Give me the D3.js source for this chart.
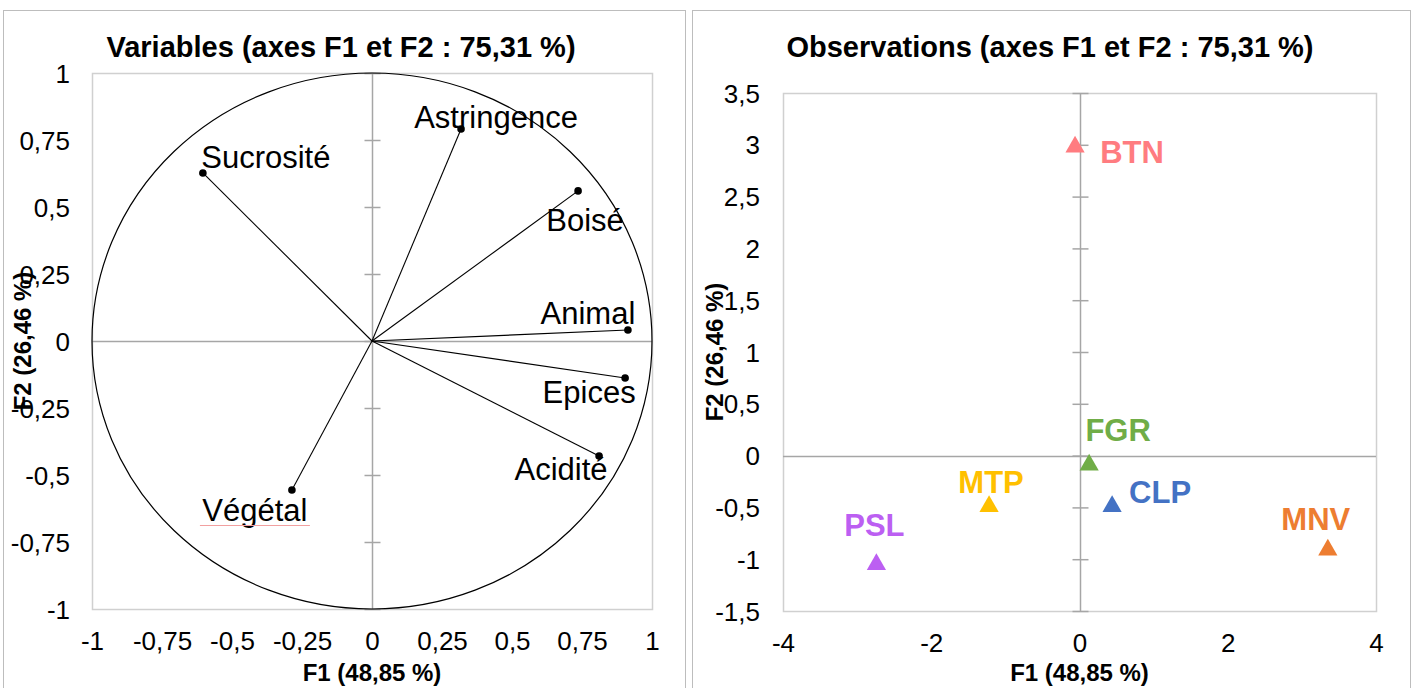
<!DOCTYPE html>
<html>
<head>
<meta charset="utf-8">
<script src="https://cdn.jsdelivr.net/npm/d3@7"></script>
<style>
  html, body { margin: 0; padding: 0; background: #fff; }
  svg { display: block; }
  text { font-family: "Liberation Sans", Arial, Helvetica, sans-serif; fill: #000; }
</style>
</head>
<body>
<svg id="chart" width="1413" height="688"></svg>
<script>
// ---- Data: correlation circle (variables) ----
const varNames = ["Astringence", "Sucrosité", "Boisé", "Animal", "Epices", "Acidité", "Végétal"];
const varF1 = [0.318, -0.604, 0.736, 0.914, 0.904, 0.811, -0.286];
const varF2 = [0.791, 0.627, 0.560, 0.041, -0.138, -0.429, -0.556];

// ---- Data: observations ----
const obsNames = ["BTN", "FGR", "CLP", "MTP", "MNV", "PSL"];
const obsF1 = [-0.06, 0.13, 0.44, -1.22, 3.35, -2.74];
const obsF2 = [2.98, -0.09, -0.49, -0.49, -0.91, -1.05];

// ---- Tick values ----
const varTicks = [-1, -0.75, -0.5, -0.25, 0, 0.25, 0.5, 0.75, 1];
const obsXTicks = [-4, -2, 0, 2, 4];
const obsYTicks = [-1.5, -1, -0.5, 0, 0.5, 1, 1.5, 2, 2.5, 3, 3.5];

// ---- Titles ----
const titleVars = "Variables (axes F1 et F2 : 75,31 %)";
const titleObs = "Observations (axes F1 et F2 : 75,31 %)";
const labelF1 = "F1 (48,85 %)";
const labelF2 = "F2 (26,46 %)";

// French number format: decimal comma, plain hyphen minus
const fr = d3.formatLocale({ decimal: ",", thousands: " ", grouping: [3], currency: ["", " €"], minus: "-" });
const fmt = v => fr.format("~g")(v);

const svg = d3.select("#chart");

// label placement (text centre offset from the mark, baseline offset)
const varLabelPos = {
  "Astringence": [35, -1], "Sucrosité": [63, -5], "Boisé": [7, 40],
  "Animal": [-40, -6], "Epices": [-36, 25], "Acidité": [-38, 24], "Végétal": [-37, 31]
};
const obsLabelPos = {
  "BTN": [57, 16], "FGR": [29, -24], "CLP": [48, -3],
  "MTP": [2, -13], "MNV": [-12, -20], "PSL": [-2, -28]
};
const obsColor = {
  "BTN": "#FF7C80", "FGR": "#70AD47", "CLP": "#4472C4",
  "MTP": "#FFC000", "MNV": "#ED7D31", "PSL": "#BC5FF2"
};

const gridGray = "#a6a6a6";
const frameGray = "#d0d0d0";
const outerGray = "#bdbdbd";

function chartFrame(x0, x1, title, titleX) {
  svg.append("rect").attr("x", x0 + 0.5).attr("y", 10.5)
    .attr("width", x1 - x0).attr("height", 700)
    .attr("fill", "#fff").attr("stroke", outerGray).attr("stroke-width", 1);
  svg.append("text").attr("x", titleX).attr("y", 57)
    .attr("text-anchor", "middle").attr("font-weight", "bold")
    .attr("font-size", 29).text(title);
}

function tickLabels(g, xScale, yScale, xTicks, yTicks, yLabelX) {
  g.append("g").attr("transform", `translate(0,${yScale.range()[0] + 41})`)
    .call(d3.axisBottom(xScale).tickValues(xTicks).tickSize(0).tickPadding(0).tickFormat(fmt))
    .call(s => s.select(".domain").remove())
    .selectAll("text").attr("font-size", 26).attr("dy", 0).attr("font-family", null);
  g.append("g").attr("transform", `translate(${yLabelX},0)`)
    .call(d3.axisLeft(yScale).tickValues(yTicks).tickSize(0).tickPadding(0).tickFormat(fmt))
    .call(s => s.select(".domain").remove())
    .selectAll("text").attr("font-size", 26).attr("dy", "0.35em").attr("font-family", null);
}

function zeroAxes(g, xScale, yScale, yTicks) {
  const [xa, xb] = xScale.range();
  const [ya, yb] = yScale.range();
  g.append("rect").attr("x", xa + 0.5).attr("y", yb + 0.5)
    .attr("width", xb - xa).attr("height", ya - yb)
    .attr("fill", "none").attr("stroke", frameGray).attr("stroke-width", 1.5);
  g.append("line").attr("x1", xa).attr("x2", xb)
    .attr("y1", Math.round(yScale(0)) + 0.5).attr("y2", Math.round(yScale(0)) + 0.5)
    .attr("stroke", gridGray).attr("stroke-width", 1.5);
  g.append("line").attr("x1", Math.round(xScale(0)) + 0.5).attr("x2", Math.round(xScale(0)) + 0.5)
    .attr("y1", ya).attr("y2", yb)
    .attr("stroke", gridGray).attr("stroke-width", 1.5);
  g.append("g").attr("transform", `translate(${Math.round(xScale(0)) - 7.5},0)`)
    .call(d3.axisRight(yScale).tickValues(yTicks).tickSize(16).tickFormat(""))
    .call(s => s.select(".domain").remove())
    .selectAll("line").attr("stroke", gridGray).attr("stroke-width", 1.5);
}

// ================= Left chart: variables =================
chartFrame(3, 685, titleVars, 341);
const gL = svg.append("g");
const xV = d3.scaleLinear().domain([-1, 1]).range([92, 652]);
const yV = d3.scaleLinear().domain([-1, 1]).range([609, 73]);

zeroAxes(gL, xV, yV, varTicks);
tickLabels(gL, xV, yV, varTicks, varTicks, 70);

// unit circle
gL.append("ellipse")
  .attr("cx", xV(0)).attr("cy", yV(0))
  .attr("rx", xV(1) - xV(0)).attr("ry", yV(0) - yV(1))
  .attr("fill", "none").attr("stroke", "#000").attr("stroke-width", 1.2);

const vars = varNames.map((n, i) => ({ name: n, f1: varF1[i], f2: varF2[i] }));
gL.selectAll("line.vec").data(vars).join("line").attr("class", "vec")
  .attr("x1", xV(0)).attr("y1", yV(0))
  .attr("x2", d => xV(d.f1)).attr("y2", d => yV(d.f2))
  .attr("stroke", "#000").attr("stroke-width", 1.1);
gL.selectAll("circle.pt").data(vars).join("circle").attr("class", "pt")
  .attr("cx", d => xV(d.f1)).attr("cy", d => yV(d.f2)).attr("r", 3.8).attr("fill", "#000");
gL.selectAll("text.vlab").data(vars).join("text").attr("class", "vlab")
  .attr("x", d => xV(d.f1) + varLabelPos[d.name][0])
  .attr("y", d => yV(d.f2) + varLabelPos[d.name][1])
  .attr("text-anchor", "middle").attr("font-size", 31).text(d => d.name);

// faint underline beneath "Végétal"
{
  const v = vars.find(d => d.name === "Végétal");
  const cx = xV(v.f1) + varLabelPos["Végétal"][0];
  const by = yV(v.f2) + varLabelPos["Végétal"][1];
  gL.append("line").attr("x1", cx - 55).attr("x2", cx + 55)
    .attr("y1", by + 4.5).attr("y2", by + 4.5)
    .attr("stroke", "#f2a0a0").attr("stroke-width", 1);
}

gL.append("text").attr("x", xV(0)).attr("y", 681)
  .attr("text-anchor", "middle").attr("font-weight", "bold").attr("font-size", 24).text(labelF1);
gL.append("text").attr("transform", `translate(31,${yV(0)}) rotate(-90)`)
  .attr("text-anchor", "middle").attr("font-weight", "bold").attr("font-size", 24).text(labelF2);

// ================= Right chart: observations =================
chartFrame(692, 1410, titleObs, 1050);
const gR = svg.append("g");
const xO = d3.scaleLinear().domain([-4, 4]).range([783, 1376]);
const yO = d3.scaleLinear().domain([-1.5, 3.5]).range([611, 93]);

zeroAxes(gR, xO, yO, obsYTicks);
tickLabels(gR, xO, yO, obsXTicks, obsYTicks, 760);

const obs = obsNames.map((n, i) => ({ name: n, f1: obsF1[i], f2: obsF2[i] }));
const tri = d3.symbol().type(d3.symbolTriangle).size(160);
gR.selectAll("path.obs").data(obs).join("path").attr("class", "obs")
  .attr("d", tri)
  .attr("transform", d => `translate(${xO(d.f1)},${yO(d.f2)})`)
  .attr("fill", d => obsColor[d.name]);
gR.selectAll("text.olab").data(obs).join("text").attr("class", "olab")
  .attr("x", d => xO(d.f1) + obsLabelPos[d.name][0])
  .attr("y", d => yO(d.f2) + obsLabelPos[d.name][1])
  .attr("text-anchor", "middle").attr("font-weight", "bold").attr("font-size", 31)
  .style("fill", d => obsColor[d.name]).text(d => d.name);

gR.append("text").attr("x", xO(0)).attr("y", 681)
  .attr("text-anchor", "middle").attr("font-weight", "bold").attr("font-size", 24).text(labelF1);
gR.append("text").attr("transform", `translate(723,${(yO.range()[0] + yO.range()[1]) / 2}) rotate(-90)`)
  .attr("text-anchor", "middle").attr("font-weight", "bold").attr("font-size", 24).text(labelF2);
</script>
</body>
</html>
